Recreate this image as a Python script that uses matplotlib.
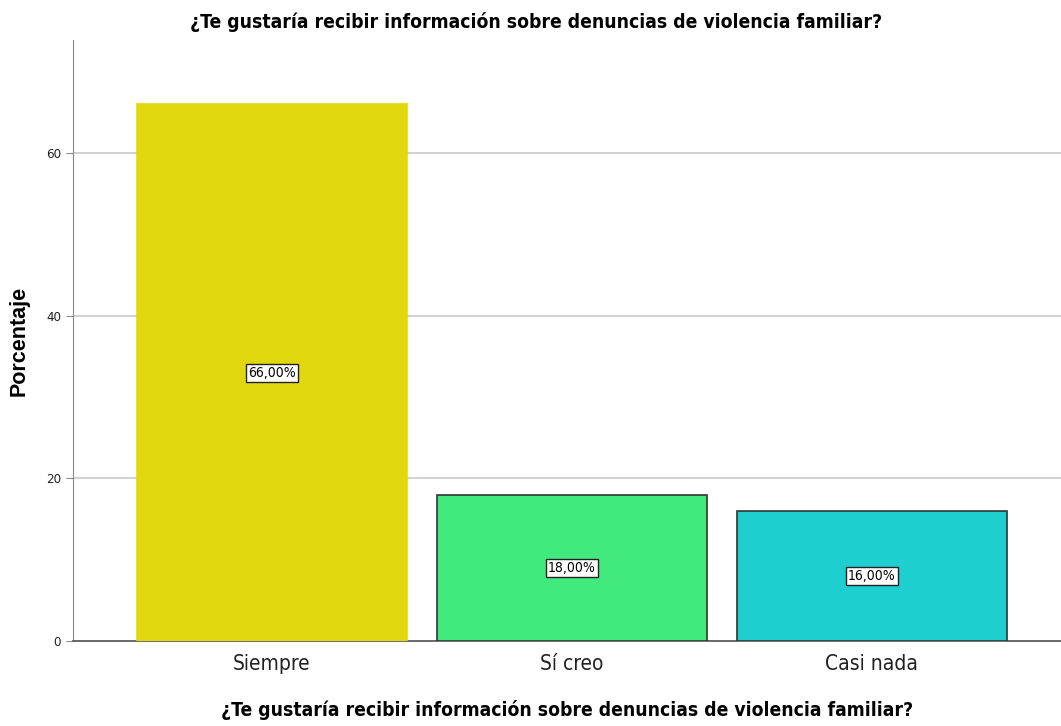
import matplotlib.pyplot as plt
from matplotlib.font_manager import FontProperties

categories = ["Siempre", "Sí creo", "Casi nada"]
percentages = [66.0, 18.0, 16.0]
bar_colors = ["#e1d70f", "#42ea7e", "#1ecfcf"]
edge_colors = ["#e1d70f", "#333333", "#333333"]
title = "¿Te gustaría recibir información sobre denuncias de violencia familiar?"

plt.rcParams['font.family'] = ['DejaVu Sans']
plt.rcParams['font.stretch'] = 'condensed'

fig = plt.figure(figsize=(10.61, 7.26), dpi=100)
ax = fig.add_axes([73 / 1061, 1 - 641 / 726, (1061 - 73) / 1061, (641 - 40) / 726])

x = list(range(len(categories)))
ax.bar(x, percentages, width=0.9, color=bar_colors, edgecolor=edge_colors, linewidth=1.2, zorder=3)

for xi, v in zip(x, percentages):
    ax.text(xi, v / 2, f"{v:.2f}%".replace(".", ","), ha="center", va="center", fontsize=10,
            zorder=4, bbox=dict(boxstyle="square,pad=0.15", fc="white", ec="#222222", lw=1))

ax.set_xlim(-0.663, 2.63)
ax.set_ylim(0, 73.9)
ax.set_yticks([0, 20, 40, 60])
ax.yaxis.grid(True, color="#c8c8c8", linewidth=1.2, zorder=0)
ax.set_axisbelow(True)
ax.set_xticks(x)
ax.set_xticklabels(categories, fontsize=15, color="#222222")
ax.tick_params(axis="x", length=0, pad=9)
ax.tick_params(axis="y", labelsize=9.5, length=5, color="#888888", labelcolor="#222222")

for s in ["top", "right"]:
    ax.spines[s].set_visible(False)
ax.spines["left"].set_color("#888888")
ax.spines["bottom"].set_color("#555555")
ax.spines["bottom"].set_linewidth(1.2)

ylab_font = FontProperties(family="Liberation Sans", weight="bold", size=15.5, stretch="normal")
ax.set_ylabel("Porcentaje", fontproperties=ylab_font, labelpad=12)
ax.set_xlabel(title, fontsize=13.85, fontweight="bold", labelpad=19)
fig.text(0.505, 1 - 22 / 726, title, ha="center", va="center", fontsize=13.85, fontweight="bold")

fig.savefig("out.png", dpi=100)
